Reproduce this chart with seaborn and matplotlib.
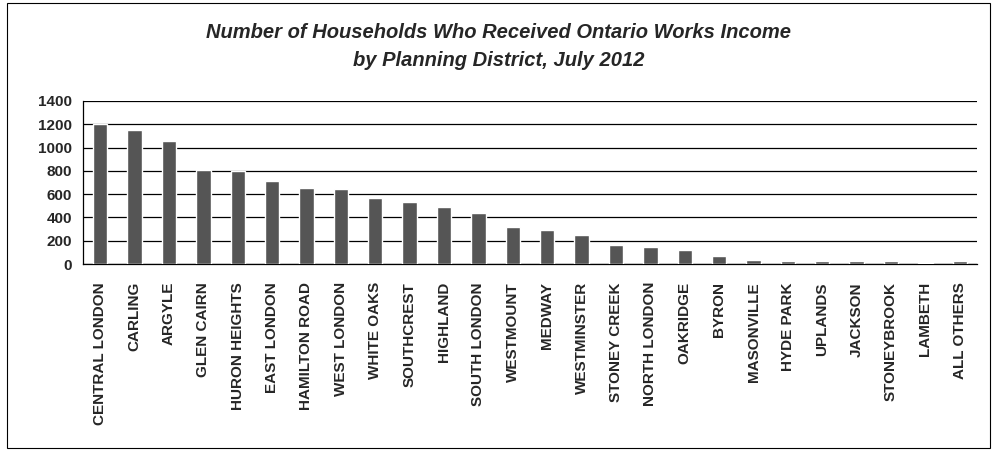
import matplotlib
matplotlib.use("Agg")
import matplotlib.pyplot as plt
import numpy as np
import pandas as pd
import seaborn as sns
from matplotlib.patches import Rectangle

districts = [
    "CENTRAL LONDON", "CARLING", "ARGYLE", "GLEN CAIRN", "HURON HEIGHTS",
    "EAST LONDON", "HAMILTON ROAD", "WEST LONDON", "WHITE OAKS", "SOUTHCREST",
    "HIGHLAND", "SOUTH LONDON", "WESTMOUNT", "MEDWAY", "WESTMINSTER",
    "STONEY CREEK", "NORTH LONDON", "OAKRIDGE", "BYRON", "MASONVILLE",
    "HYDE PARK", "UPLANDS", "JACKSON", "STONEYBROOK", "LAMBETH", "ALL OTHERS",
]
households = [
    1205, 1155, 1060, 805, 800,
    715, 655, 640, 565, 530,
    490, 435, 315, 290, 250,
    163, 143, 123, 72, 32,
    30, 28, 28, 30, 12, 28,
]
y_ticks = [0, 200, 400, 600, 800, 1000, 1200, 1400]

df = pd.DataFrame({"district": districts, "households": households})

sns.set_style("white")
plt.rcParams["font.family"] = ["Liberation Sans", "DejaVu Sans"]

fig = plt.figure(figsize=(9.92, 4.51), dpi=100)
ax = fig.add_axes([83 / 992, 1 - 264 / 451, (977 - 83) / 992, (264 - 101) / 451])

sns.barplot(data=df, x="district", y="households", color="#555555",
            width=0.42, saturation=1, ax=ax, zorder=3)

ax.set_ylim(0, 1400)
ax.set_xlim(-0.5, len(districts) - 0.5)
ax.set_yticks(y_ticks)
ax.set_yticklabels([str(v) for v in y_ticks], fontsize=11, fontweight="bold")
ax.set_xticks(range(len(districts)))
ax.set_xticklabels(districts, rotation=90, fontsize=11, fontweight="bold")
ax.set_xticks(np.arange(-0.5, len(districts), 1), minor=True)
ax.tick_params(axis="x", which="major", length=0, pad=13)
ax.tick_params(axis="x", which="minor", length=4, width=0.8, direction="out", color="black")
ax.tick_params(axis="y", length=0, pad=8)
ax.set_xlabel("")
ax.set_ylabel("")
ax.yaxis.grid(True, color="black", linewidth=0.9)
ax.set_axisbelow(True)
for side in ["top", "right"]:
    ax.spines[side].set_visible(False)
ax.spines["left"].set_color("black")
ax.spines["bottom"].set_color("black")
ax.spines["left"].set_linewidth(0.9)
ax.spines["bottom"].set_linewidth(0.9)

fig.text(0.503, 1 - 33 / 451, "Number of Households Who Received Ontario Works Income",
         ha="center", va="center", fontsize=14.5, fontweight="bold", fontstyle="italic")
fig.text(0.503, 1 - 60 / 451, "by Planning District, July 2012",
         ha="center", va="center", fontsize=14.5, fontweight="bold", fontstyle="italic")

fig.patches.append(Rectangle((7 / 992, 3 / 451), 983 / 992, 445 / 451,
                             transform=fig.transFigure, fill=False,
                             edgecolor="black", linewidth=0.8))

fig.savefig("out.png", dpi=100)
